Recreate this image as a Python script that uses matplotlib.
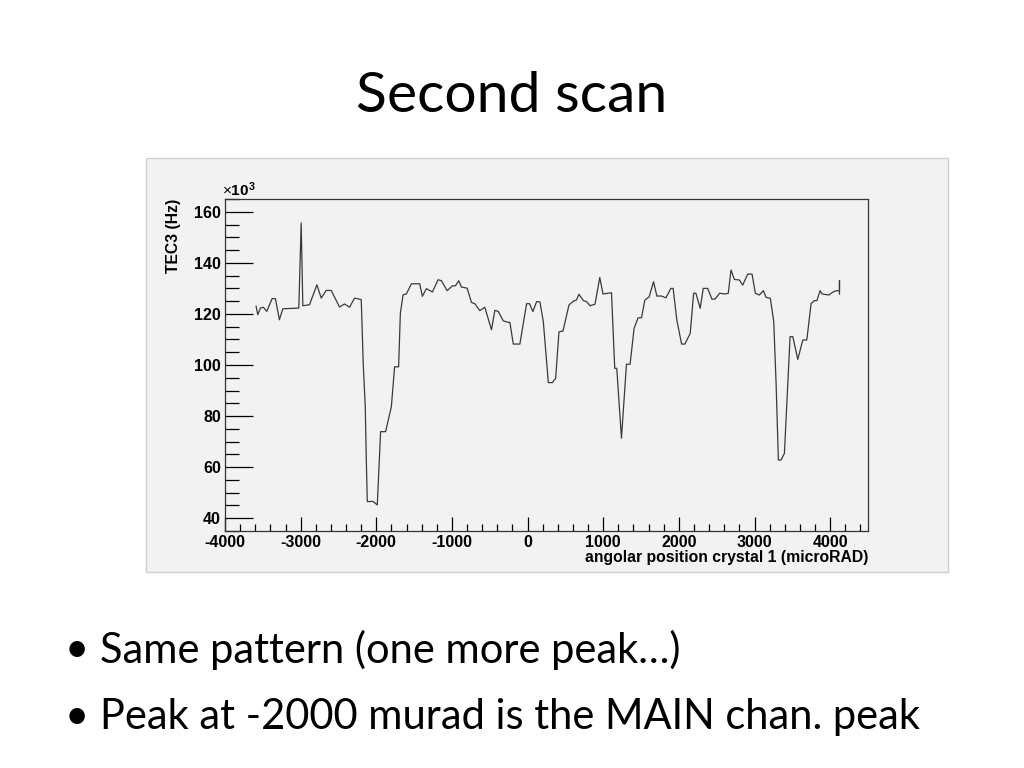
import matplotlib
matplotlib.use("Agg")
import matplotlib.pyplot as plt
from matplotlib.patches import Rectangle
from matplotlib.ticker import MultipleLocator

plt.rcParams["axes.unicode_minus"] = False
plt.rcParams["mathtext.fontset"] = "custom"
plt.rcParams["mathtext.bf"] = "Liberation Sans:bold"
plt.rcParams["mathtext.rm"] = "Liberation Sans"

# angular position (microrad) and TEC3 rate (x10^3 Hz)
angle = [-3589, -3567, -3532, -3493, -3448, -3377, -3334, -3281, -3236, -3024,
         -2993, -2971, -2883, -2785, -2728, -2662, -2596, -2486, -2420, -2354,
         -2287, -2199, -2172, -2146, -2132, -2119, -2044, -1987, -1943, -1877,
         -1801, -1758, -1705, -1682, -1646, -1603, -1536, -1426, -1391, -1338,
         -1258, -1183, -1139, -1064, -993, -954, -910, -874, -799, -742,
         -698, -632, -566, -477, -433, -388, -322, -256, -234, -189,
         -102, -13, 26, 70, 119, 163, 208, 274, 327, 371,
         415, 468, 547, 605, 645, 679, 738, 781, 825, 891,
         954, 997, 1109, 1130, 1152, 1179, 1241, 1307, 1355, 1408,
         1461, 1506, 1550, 1607, 1665, 1709, 1771, 1828, 1894, 1924,
         1973, 2036, 2079, 2150, 2195, 2225, 2282, 2322, 2380, 2437,
         2477, 2539, 2613, 2653, 2689, 2733, 2799, 2844, 2910, 2967,
         3011, 3064, 3117, 3152, 3209, 3254, 3285, 3315, 3351, 3395,
         3470, 3506, 3572, 3638, 3691, 3748, 3792, 3824, 3867, 3893,
         3983, 4044, 4089, 4123, 4123, 4123]
rate = [123.0, 119.7, 122.3, 122.6, 121.0, 126.0, 126.0, 117.7, 122.0, 122.3,
        155.6, 123.2, 123.6, 131.4, 126.2, 129.2, 129.2, 122.7, 123.9, 122.6,
        126.2, 125.6, 100.0, 83.7, 62.8, 46.5, 46.6, 45.2, 73.9, 73.9,
        83.7, 99.3, 99.3, 120.2, 127.5, 127.8, 131.8, 131.8, 126.9, 129.9,
        128.6, 133.4, 133.0, 129.1, 131.0, 131.0, 133.0, 130.5, 130.1, 124.5,
        124.0, 121.3, 122.6, 113.8, 121.4, 121.0, 117.3, 116.7, 116.7, 108.2,
        108.2, 124.0, 124.0, 120.9, 124.8, 124.7, 117.0, 93.1, 93.1, 94.8,
        113.0, 113.3, 123.5, 125.0, 125.4, 127.7, 125.2, 124.8, 123.2, 123.8,
        134.3, 127.8, 128.3, 113.7, 98.7, 98.7, 71.3, 100.3, 100.3, 114.4,
        118.5, 118.5, 125.4, 126.7, 132.6, 127.0, 127.0, 126.3, 130.0, 130.0,
        117.6, 108.2, 108.2, 112.4, 128.1, 128.1, 122.2, 130.0, 130.0, 125.8,
        125.8, 128.1, 127.8, 128.1, 137.2, 133.5, 133.3, 131.3, 135.6, 135.6,
        128.1, 127.4, 129.1, 126.5, 126.1, 117.0, 92.8, 62.8, 62.8, 65.4,
        111.1, 111.1, 102.2, 109.8, 109.8, 124.1, 125.2, 125.2, 129.1, 127.8,
        127.4, 128.7, 129.1, 129.1, 133.0, 127.8]

bullets = ["Same pattern (one more peak\u2026)",
           "Peak at -2000 murad is the MAIN chan. peak"]

fig = plt.figure(figsize=(10.24, 7.68), dpi=100)
fig.patch.set_facecolor("white")

# slide title
fig.text(0.5, 1 - 97 / 768, "Second scan", ha="center", va="center",
         fontsize=41, family="Lato")

# grey canvas of the ROOT plot (behind the axes)
panel = Rectangle((146 / 1024, 1 - 572 / 768), (948 - 146) / 1024, (572 - 158) / 768,
                  transform=fig.transFigure, facecolor="#f2f2f2",
                  edgecolor="#d0d0d0", lw=1, zorder=-5)
fig.add_artist(panel)

ax = fig.add_axes([225 / 1024, 1 - 531 / 768, (868 - 225) / 1024, (531 - 199) / 768])
ax.set_zorder(2)
ax.set_facecolor("#f2f2f2")
ax.plot(angle, rate, color="#3a3a3a", lw=0.9)

ax.set_xlim(-4000, 4500)
ax.set_ylim(35, 165)
ax.xaxis.set_major_locator(MultipleLocator(1000))
ax.xaxis.set_minor_locator(MultipleLocator(200))
ax.yaxis.set_major_locator(MultipleLocator(20))
ax.yaxis.set_minor_locator(MultipleLocator(5))
ax.tick_params(axis="y", which="major", direction="in", length=20, width=0.9)
ax.tick_params(axis="y", which="minor", direction="in", length=10, width=0.9)
ax.tick_params(axis="x", which="major", direction="in", length=10, width=0.9)
ax.tick_params(axis="x", which="minor", direction="in", length=5, width=0.9)
ax.tick_params(axis="both", which="both", top=False, right=False,
               labelsize=11.5, pad=3)
for lab in ax.get_xticklabels() + ax.get_yticklabels():
    lab.set_family("Liberation Sans")
    lab.set_fontweight("bold")
for sp in ax.spines.values():
    sp.set_color("#333333")
    sp.set_linewidth(0.9)

ax.set_xlabel("angolar position crystal 1 (microRAD)", family="Liberation Sans",
              fontweight="bold", fontsize=11.3, loc="right", labelpad=0)
ax.set_ylabel("TEC3 (Hz)", family="Liberation Sans", fontweight="bold",
              fontsize=11.3, loc="top", labelpad=9)
ax.text(-0.005, 1.0, r"$\times\mathbf{10^{3}}$", transform=ax.transAxes,
        ha="left", va="bottom", fontsize=11)

# bullet points
for i, txt in enumerate(bullets):
    y = 1 - (650 + 67 * i) / 768
    fig.text(65 / 1024, y, "\u2022", ha="left", va="center", fontsize=30, family="Lato")
    fig.text(100 / 1024, y, txt, ha="left", va="center", fontsize=30, family="Lato")

fig.savefig("out.png", dpi=100, facecolor=fig.get_facecolor())
